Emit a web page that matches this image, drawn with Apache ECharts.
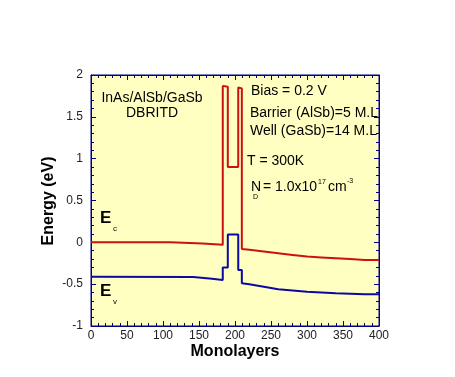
<!DOCTYPE html>
<html>
<head>
<meta charset="utf-8">
<script src="https://cdn.jsdelivr.net/npm/echarts@6/dist/echarts.min.js"></script>
<style>html,body{margin:0;padding:0;background:#fff}#c{width:455px;height:377px}</style>
</head>
<body>
<div id="c"></div>
<script>
// Conduction band edge Ec: [monolayer, energy eV]
const ecPoints = [
  [0, 0], [110, 0], [110, -0.015], [155, -0.015], [155, -0.03], [183, -0.03],
  [183, 1.87], [190, 1.86], [190, 0.90], [204.5, 0.90], [204.5, 1.85], [209.5, 1.84],
  [209.5, -0.08], [220, -0.09], [240, -0.11], [260, -0.13], [280, -0.15], [300, -0.17],
  [320, -0.18], [340, -0.19], [360, -0.20], [380, -0.21], [400, -0.21]
];
// Valence band edge Ev
const evPoints = [
  [0, -0.41], [142, -0.415], [142, -0.435], [168, -0.435], [168, -0.45], [183, -0.45],
  [183, -0.30], [190, -0.30], [190, 0.095], [204.5, 0.095], [204.5, -0.33], [209.5, -0.33],
  [209.5, -0.49], [220, -0.50], [240, -0.53], [260, -0.56], [280, -0.575], [300, -0.59],
  [320, -0.60], [340, -0.61], [360, -0.615], [380, -0.62], [400, -0.62]
];
const xRange = [0, 400, 50];
const yRange = [-1, 2, 0.5];
const titleLines = ['InAs/AlSb/GaSb', 'DBRITD'];
const infoLines = ['Bias = 0.2 V', 'Barrier (AlSb)=5 M.L', 'Well (GaSb)=14 M.L', 'T = 300K'];

const FONT = '"Liberation Sans", Arial, sans-serif';
const NAVY = '#000080';

function axisCommon(showLabel, margin) {
  return {
    axisLine: { show: true, onZero: false, lineStyle: { color: NAVY, width: 1 } },
    axisTick: { show: true, inside: true, length: 5, lineStyle: { color: NAVY } },
    minorTick: { show: true, splitNumber: 5, length: 3, lineStyle: { color: NAVY } },
    splitLine: { show: false },
    axisLabel: { show: showLabel, color: '#222', fontFamily: FONT, fontSize: 12, margin: margin }
  };
}

const chart = echarts.init(document.getElementById('c'), null, { renderer: 'canvas' });
const txt = (x, y, t, size, extra) => Object.assign({
  type: 'text', x: x, y: y, z: 50,
  style: Object.assign({ text: t, fill: '#000', font: (size || 14) + 'px ' + FONT, textVerticalAlign: 'middle' }, extra || {})
});

const graphics = [
  txt(152, 98, titleLines[0], 14, { textAlign: 'center' }),
  txt(152, 113, titleLines[1], 14, { textAlign: 'center' }),
  txt(251, 91, infoLines[0], 14),
  txt(250, 113, infoLines[1], 14),
  txt(250, 131, infoLines[2], 14),
  txt(247, 161, infoLines[3], 14),
  txt(251, 187, 'N', 14),
  txt(253, 197, 'D', 7),
  txt(263, 187, '= 1.0x10', 14),
  txt(318, 182, '17', 7),
  txt(328, 187, 'cm', 14),
  txt(347, 181, '-3', 7),
  txt(100, 218, 'E', 17, { font: 'bold 17px ' + FONT }),
  txt(113, 229, 'c', 8),
  txt(100, 291, 'E', 17, { font: 'bold 17px ' + FONT }),
  txt(113, 302, 'v', 8),
  txt(235, 352, 'Monolayers', 16, { textAlign: 'center', font: 'bold 16px ' + FONT }),
  { type: 'text', x: 49, y: 201, rotation: Math.PI / 2, z: 50,
    style: { text: 'Energy (eV)', fill: '#000', font: 'bold 16px ' + FONT, textAlign: 'center', textVerticalAlign: 'middle' } }
];

chart.setOption({
  animation: false,
  backgroundColor: '#fff',
  grid: { left: 91, top: 75, right: 76, bottom: 51, show: true, backgroundColor: '#ffffc2', borderColor: NAVY, borderWidth: 1 },
  xAxis: [
    Object.assign({ type: 'value', position: 'bottom', min: xRange[0], max: xRange[1], interval: xRange[2] }, axisCommon(true, 4)),
    Object.assign({ type: 'value', position: 'top', min: xRange[0], max: xRange[1], interval: xRange[2] }, axisCommon(false, 4))
  ],
  yAxis: [
    Object.assign({ type: 'value', position: 'left', min: yRange[0], max: yRange[1], interval: yRange[2] }, axisCommon(true, 8)),
    Object.assign({ type: 'value', position: 'right', min: yRange[0], max: yRange[1], interval: yRange[2] }, axisCommon(false, 8))
  ],
  series: [
    { type: 'line', data: ecPoints, showSymbol: false, symbol: 'none', lineStyle: { color: '#cc1111', width: 2 }, z: 3 },
    { type: 'line', data: evPoints, showSymbol: false, symbol: 'none', lineStyle: { color: '#0a0aa0', width: 2 }, z: 3 }
  ],
  graphic: graphics
});
</script>
</body>
</html>
